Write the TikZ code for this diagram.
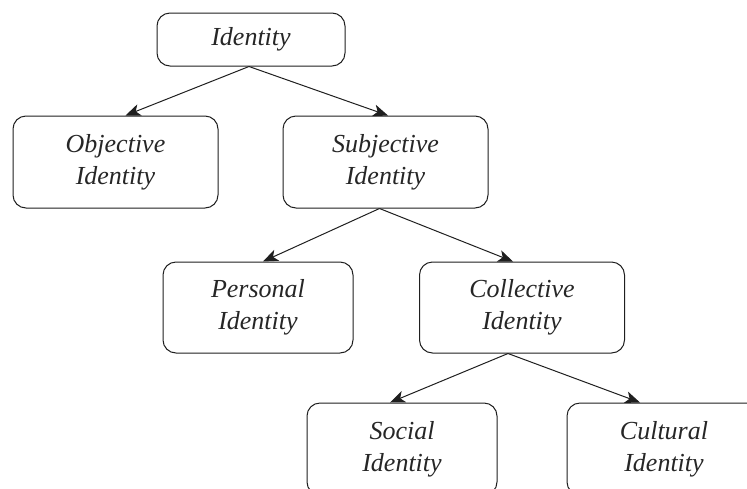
\documentclass[tikz,border=0pt]{standalone}
\usepackage{fontspec}
\setmainfont{Liberation Serif}
\usetikzlibrary{arrows.meta}
\begin{document}
\begin{tikzpicture}[x=1pt,y=-1pt,
  box/.style={draw=black!88, line width=1pt, rounded corners=13pt, align=center,
    font=\fontsize{26}{32}\selectfont\itshape, text=black!85, inner sep=0pt},
  wbox/.style={box, minimum width=205pt, minimum height=92pt},
  nbox/.style={box, minimum width=190pt, minimum height=91pt},
  arr/.style={-{Stealth[length=15pt,width=12pt,inset=4pt]}, line width=1pt, draw=black!88}]
\clip (0,0) rectangle (747,488);
\node[box, minimum width=188pt, minimum height=53pt] (id) at (251,39.5) {Identity};
\node[wbox] (obj) at (115.5,162) {Objective\\Identity};
\node[wbox] (sub) at (385.5,162) {Subjective\\Identity};
\node[nbox] (per) at (258,307.5) {Personal\\Identity};
\node[wbox, minimum height=91pt] (col) at (522,307.5) {Collective\\Identity};
\node[nbox, minimum height=92pt] (soc) at (402,449) {Social\\Identity};
\node[nbox, minimum width=194pt, minimum height=92pt] (cul) at (664,449) {Cultural\\Identity};
\draw[arr] ([xshift=-2pt]id.south) -- ([xshift=10pt]obj.north);
\draw[arr] ([xshift=-2pt]id.south) -- ([xshift=2.5pt]sub.north);
\draw[arr] ([xshift=-6pt]sub.south) -- ([xshift=5pt]per.north);
\draw[arr] ([xshift=-6pt]sub.south) -- ([xshift=-9pt]col.north);
\draw[arr] ([xshift=-14pt]col.south) -- ([xshift=-12pt]soc.north);
\draw[arr] ([xshift=-14pt]col.south) -- ([xshift=-24pt]cul.north);
\end{tikzpicture}
\end{document}
